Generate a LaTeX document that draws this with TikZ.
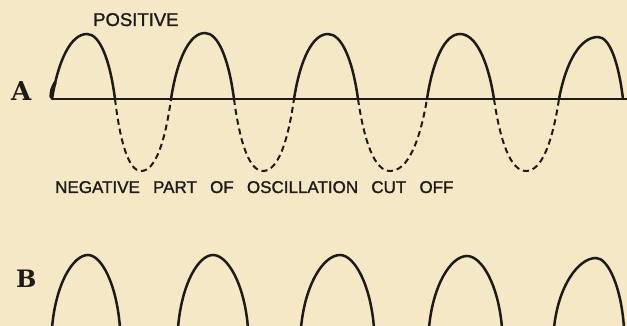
\documentclass[tikz,border=0pt]{standalone}
\usepackage{fontspec}
\newfontfamily\lettering[WordSpace=2.8,FakeBold=1.3]{Liberation Sans}
\newfontfamily\slabfont{DejaVu Serif}
\definecolor{paper}{RGB}{244,232,199}
\definecolor{ink}{RGB}{30,26,22}
% #1 style, #2 x0, #3 peak x, #4 x1, #5 base y, #6 peak y, #7 base steepness, #8 top roundness
\newcommand\archcurve[8]{%
  \pgfmathsetmacro\cxa{#2+#7*(#3-#2)}%
  \pgfmathsetmacro\cxb{#3-#8*(#3-#2)}%
  \pgfmathsetmacro\cxc{#3+#8*(#4-#3)}%
  \pgfmathsetmacro\cxd{#4-#7*(#4-#3)}%
  \pgfmathsetmacro\cyy{#5+0.6*(#6-#5)}%
  \draw[#1] (#2,#5) .. controls (\cxa,\cyy) and (\cxb,#6) .. (#3,#6)
            .. controls (\cxc,#6) and (\cxd,\cyy) .. (#4,#5);
}
\begin{document}
\begin{tikzpicture}[x=1pt,y=-1pt,
  wave/.style={ink, line width=2.5pt, line cap=round},
  cutoff/.style={ink, line width=2pt, dash pattern=on 6pt off 4pt},
  axisline/.style={ink, line width=2.8pt},
  smallcaps/.style={ink, inner sep=0pt, anchor=base west, font=\lettering\fontsize{17}{20}\selectfont},
  biglabel/.style={ink, inner sep=0pt, anchor=base west}]
\fill[paper] (0,0) rectangle (627,326);
\useasboundingbox (0,0) rectangle (627,326);

% labels
\node[smallcaps, font=\lettering\fontsize{18.5}{22}\selectfont] (pos) at (93,26) {POSITIVE};
\node[biglabel, font=\slabfont\bfseries\fontsize{26}{30}\selectfont] (lblA) at (11,101) {A};
\node[smallcaps] (neg) at (55,193) {NEGATIVE PART OF OSCILLATION CUT OFF};
\node[biglabel, font=\slabfont\bfseries\fontsize{24}{28}\selectfont] (lblB) at (16,287) {B};

% A: axis
\coordinate (axL) at (52,99);
\coordinate (axR) at (627,99);
\draw[axisline] (axL) -- (axR);

% A: positive halves
\archcurve{wave}{52}{87}{115}{99}{34}{0.18}{0.46}
\archcurve{wave}{171}{205}{234}{99}{33}{0.18}{0.46}
\archcurve{wave}{294}{328}{358}{99}{34}{0.18}{0.46}
\archcurve{wave}{427}{460}{494}{99}{34}{0.18}{0.46}
\archcurve{wave}{559}{598}{623}{99}{37}{0.18}{0.46}
\draw[ink, line width=3.4pt, line cap=round] (51,97) .. controls (51.5,90) .. (55,83);

% A: negative halves (cut off)
\archcurve{cutoff}{115}{141}{171}{99}{171}{0.2}{0.48}
\archcurve{cutoff}{234}{263}{294}{99}{171}{0.2}{0.48}
\archcurve{cutoff}{358}{390}{427}{99}{171}{0.2}{0.48}
\archcurve{cutoff}{494}{526}{559}{99}{171}{0.2}{0.48}

% B: rectified pulses
\archcurve{wave}{52}{88}{120}{328}{255}{0.1}{0.42}
\archcurve{wave}{178}{213}{248}{328}{255}{0.1}{0.42}
\archcurve{wave}{301}{340}{374}{328}{255}{0.1}{0.42}
\archcurve{wave}{429}{467}{502}{328}{256}{0.1}{0.42}
\archcurve{wave}{554}{596}{624}{328}{258}{0.1}{0.42}
\end{tikzpicture}
\end{document}
